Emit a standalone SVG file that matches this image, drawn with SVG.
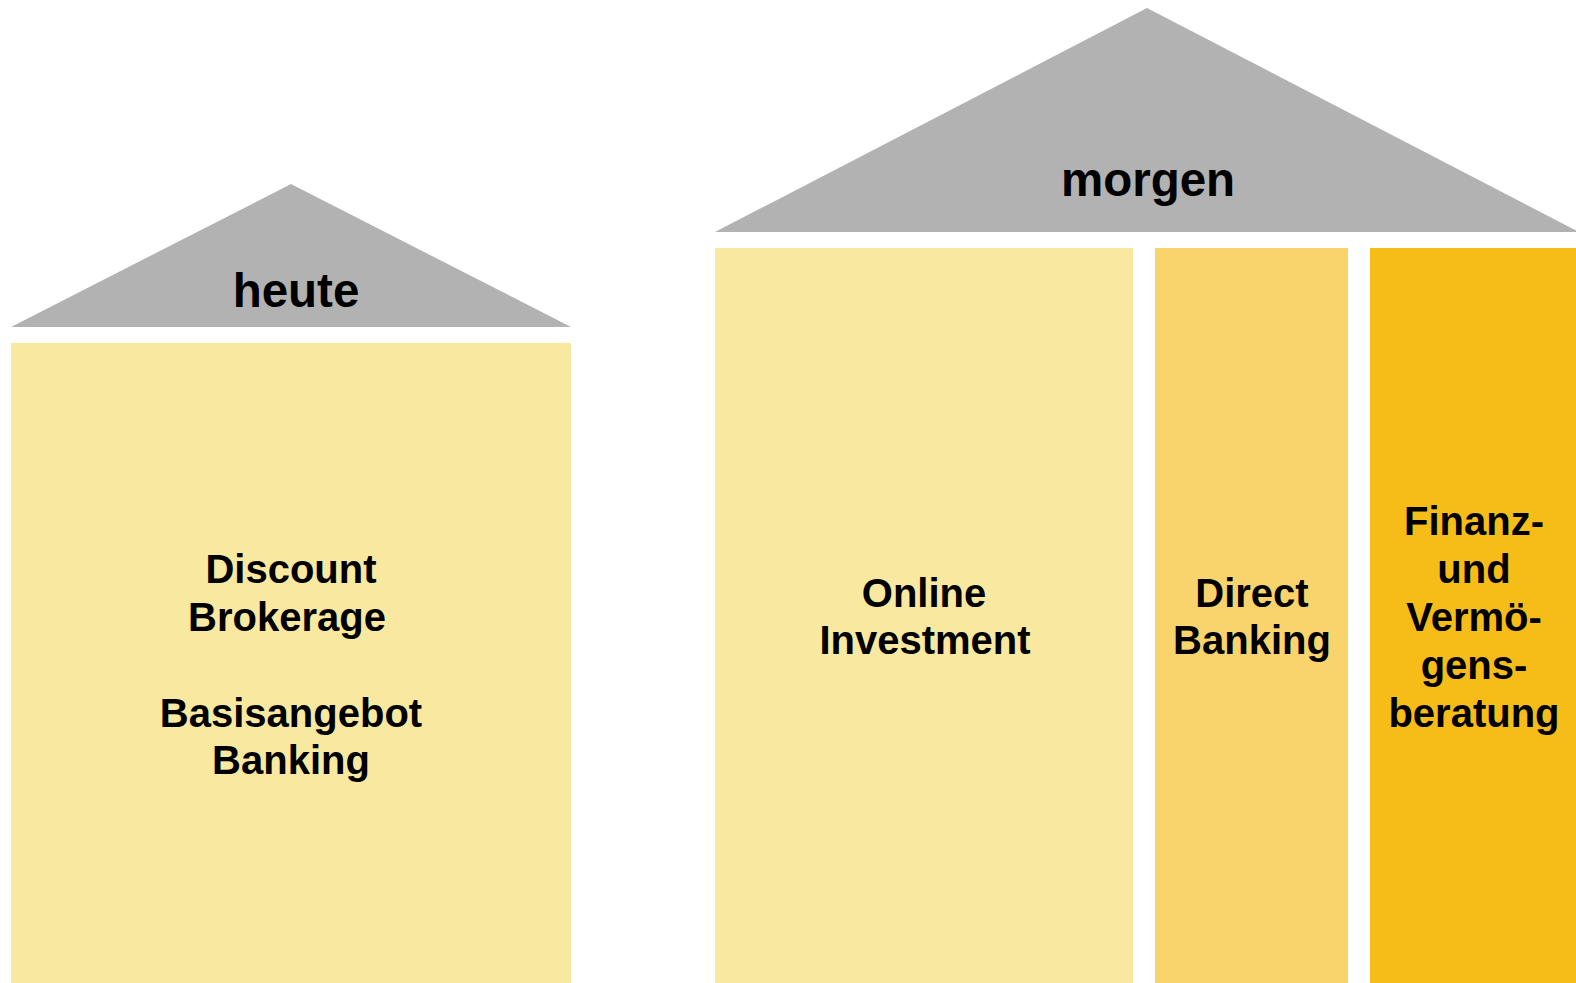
<svg xmlns="http://www.w3.org/2000/svg" width="1576" height="983" viewBox="0 0 1576 983">
<style>
.roof{fill:#B2B2B2}
.t{font-family:"Liberation Sans",Arial,sans-serif;font-weight:bold;fill:#000;text-anchor:middle}
.big{font-size:47.5px}
.lbl{font-size:40px}
</style>
<rect width="1576" height="983" fill="#FFFFFF"/>
<g id="roof-heute">
<polygon class="roof" points="11,327 291,184 571,327"/>
<text class="t big" x="296" y="307">heute</text>
</g>
<g id="pillar-heute">
<rect x="11" y="343" width="560" height="640" fill="#F9E9A0"/>
<text class="t lbl" x="291" y="583">Discount</text>
<text class="t lbl" x="287" y="631">Brokerage</text>
<text class="t lbl" x="291" y="727">Basisangebot</text>
<text class="t lbl" x="291" y="774">Banking</text>
</g>
<g id="roof-morgen">
<polygon class="roof" points="715,232 1147,8 1579,232"/>
<text class="t big" x="1148" y="196">morgen</text>
</g>
<g id="pillar-online">
<rect x="715" y="248" width="418" height="735" fill="#F9E9A0"/>
<text class="t lbl" x="924" y="607">Online</text>
<text class="t lbl" x="925" y="654">Investment</text>
</g>
<g id="pillar-direct">
<rect x="1155" y="248" width="193" height="735" fill="#F9D46C"/>
<text class="t lbl" x="1252" y="607">Direct</text>
<text class="t lbl" x="1252" y="654">Banking</text>
</g>
<g id="pillar-finanz">
<rect x="1370" y="248" width="210" height="735" fill="#F6BD19"/>
<text class="t lbl" x="1474" y="535">Finanz-</text>
<text class="t lbl" x="1474" y="583">und</text>
<text class="t lbl" x="1474" y="631">Vermö-</text>
<text class="t lbl" x="1474" y="679">gens-</text>
<text class="t lbl" x="1474" y="727">beratung</text>
</g>
<g id="connectors"/>
</svg>
